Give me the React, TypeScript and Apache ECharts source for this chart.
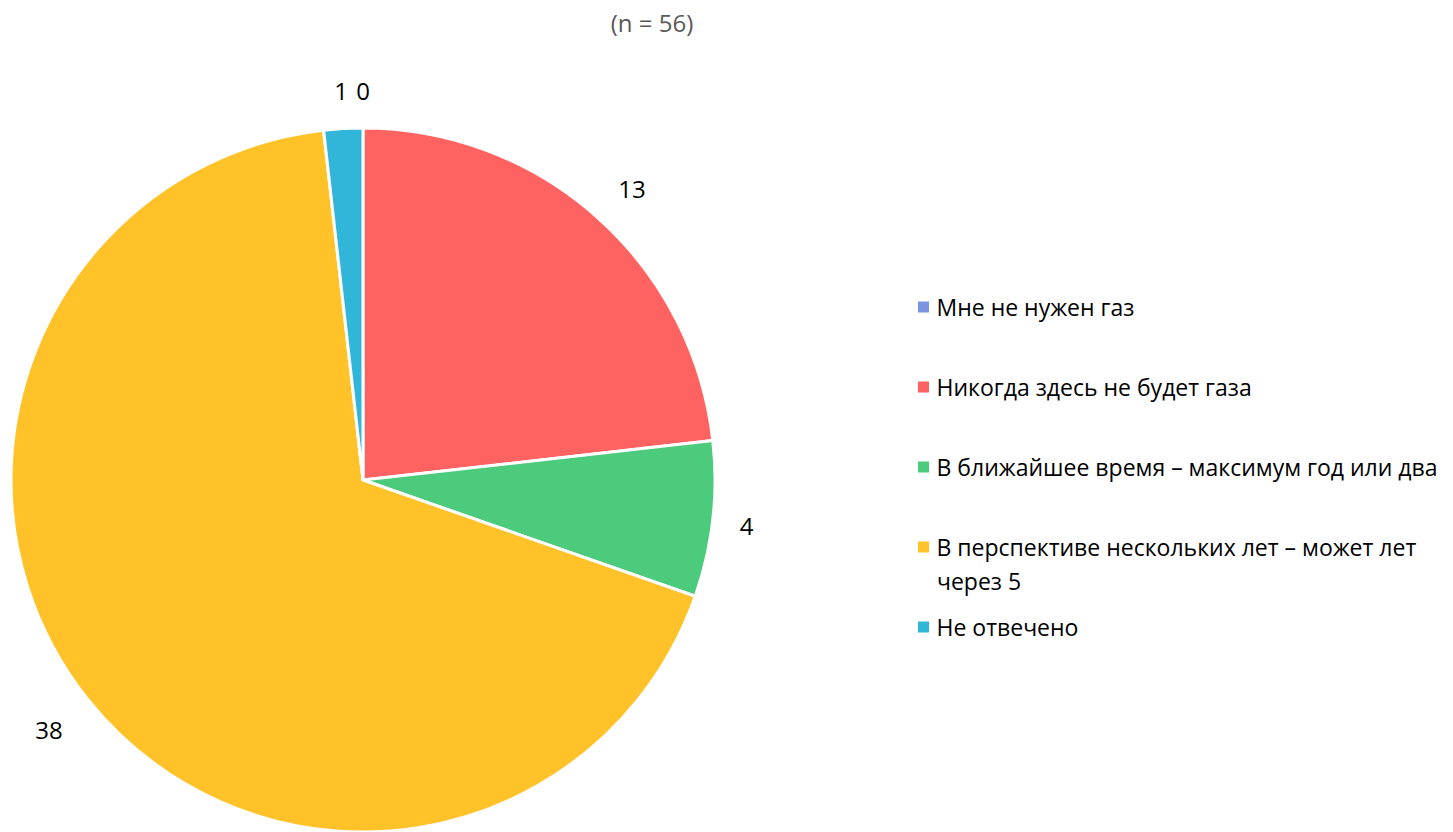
import React, { useEffect, useRef } from "react";
import * as echarts from "echarts";

const categories = [
  "Мне не нужен газ",
  "Никогда здесь не будет газа",
  "В ближайшее время – максимум год или два",
  "В перспективе нескольких лет – может лет через 5",
  "Не отвечено",
];
const values = [0, 13, 4, 38, 1];
const colors = ["#7b93e0", "#ff6361", "#4ccb7c", "#ffc229", "#31b6da"];
const titleText = "(n = 56)";

const FONT = "'Open Sans', sans-serif";

export default function App() {
  const ref = useRef<HTMLDivElement>(null);
  useEffect(() => {
    if (!ref.current) return;
    const chart = echarts.init(ref.current, undefined, { renderer: "svg" });
    const data = categories.map((n, i) => ({ name: n, value: values[i], itemStyle: { color: colors[i] } }));
    const labelOffsets = [[0, 0], [9, -1], [-4, 2], [-9, 6], [0, 0]];
    const legendCenters = [307, 387, 467, 547, 627];
    const legends = categories.map((n, i) => ({
      data: [n],
      orient: "vertical",
      left: 916,
      top: legendCenters[i] - 15,
      padding: 0,
      icon: "path://M0,0h10v10h-10z",
      itemWidth: 16,
      itemHeight: 13,
      selectedMode: false,
      formatter: (name: string) =>
        name === categories[3] ? "В перспективе нескольких лет – может лет" : name,
      textStyle: { fontFamily: FONT, fontSize: 23, lineHeight: 30, color: "#000" },
    }));
    chart.setOption({
      animation: false,
      backgroundColor: "#fff",
      title: {
        text: titleText,
        left: 647,
        top: 5,
        textAlign: "center",
        textStyle: { fontFamily: FONT, fontSize: 24, fontWeight: "normal", color: "#595959" },
      },
      legend: legends,
      graphic: [
        {
          type: "text",
          x: 937,
          y: 581,
          style: { text: "через 5", font: `23px ${FONT}`, fill: "#000", verticalAlign: "middle" },
        },
      ],
      series: [
        {
          type: "pie",
          center: [363, 480],
          radius: [0, 352],
          startAngle: 90,
          clockwise: true,
          data,
          label: { show: false },
          labelLine: { show: false },
          itemStyle: { borderColor: "#fff", borderWidth: 3 },
          silent: true,
        },
        {
          type: "pie",
          center: [363, 480],
          radius: [352, 422],
          startAngle: 90,
          clockwise: true,
          data: categories.map((n, i) => ({
            name: n,
            value: values[i],
            itemStyle: { color: "rgba(0,0,0,0)" },
            label: { offset: labelOffsets[i] },
          })),
          itemStyle: { color: "rgba(0,0,0,0)", borderWidth: 0 },
          label: {
            show: true,
            position: "inside",
            formatter: "{c}",
            fontFamily: FONT,
            fontSize: 24,
            color: "#000",
          },
          labelLine: { show: false },
          emphasis: { disabled: true },
          silent: true,
        },
      ],
    });
    return () => chart.dispose();
  }, []);
  return (
    <div
      ref={ref}
      style={{ position: "fixed", left: 0, top: 0, width: 1453, height: 832 }}
    />
  );
}
